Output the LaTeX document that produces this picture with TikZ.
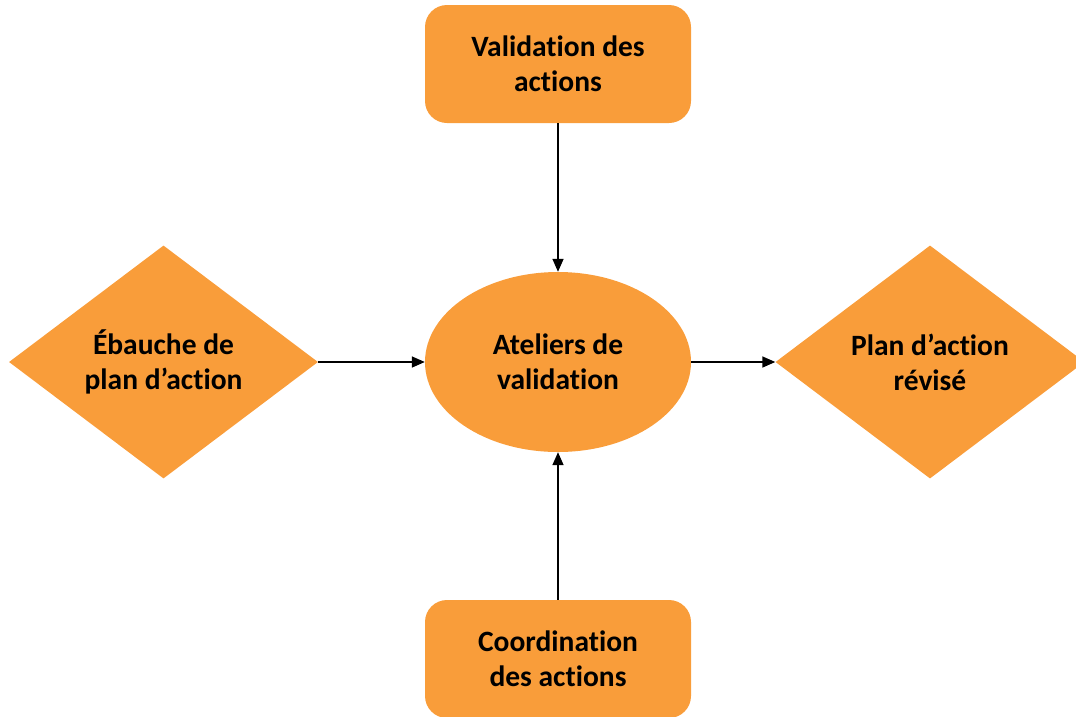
\documentclass[tikz,border=0pt]{standalone}
\usepackage{fontspec}
\setmainfont[Ligatures={NoCommon}]{Carlito}
\usetikzlibrary{shapes.geometric,arrows.meta}
\definecolor{boxorange}{RGB}{249,157,58}
\tikzset{
  lbl/.style={align=center, font=\fontsize{29.5}{35}\selectfont\bfseries, inner sep=0pt},
  box/.style={lbl, fill=boxorange, rounded corners=22pt, minimum width=266pt, minimum height=118pt},
  oval/.style={lbl, ellipse, fill=boxorange, minimum width=266pt, minimum height=180pt},
  losange/.style={lbl, diamond, fill=boxorange, minimum width=309pt, minimum height=233pt, aspect=1.33},
  flow/.style={draw=black, line width=1.6pt, -{Triangle[length=13pt,width=11pt]}}
}
\begin{document}
\begin{tikzpicture}[x=1pt,y=-1pt]
\useasboundingbox (0,0) rectangle (1076,716);
\clip (0,0) rectangle (1076,716);
\node[box] (top) at (558,64) {Validation des\\actions};
\node[box] (bot) at (558,659) {Coordination\\des actions};
\node[oval] (mid) at (558,362) {Ateliers de\\validation};
\node[losange] (left) at (163.5,362) {Ébauche de\\plan d’action};
\node[losange] (right) at (930,362) {Plan d’action\\révisé};
\draw[flow] (top.south) -- (mid.north);
\draw[flow] (bot.north) -- (mid.south);
\draw[flow] (left.east) -- (mid.west);
\draw[flow] (mid.east) -- (right.west);
\end{tikzpicture}
\end{document}
